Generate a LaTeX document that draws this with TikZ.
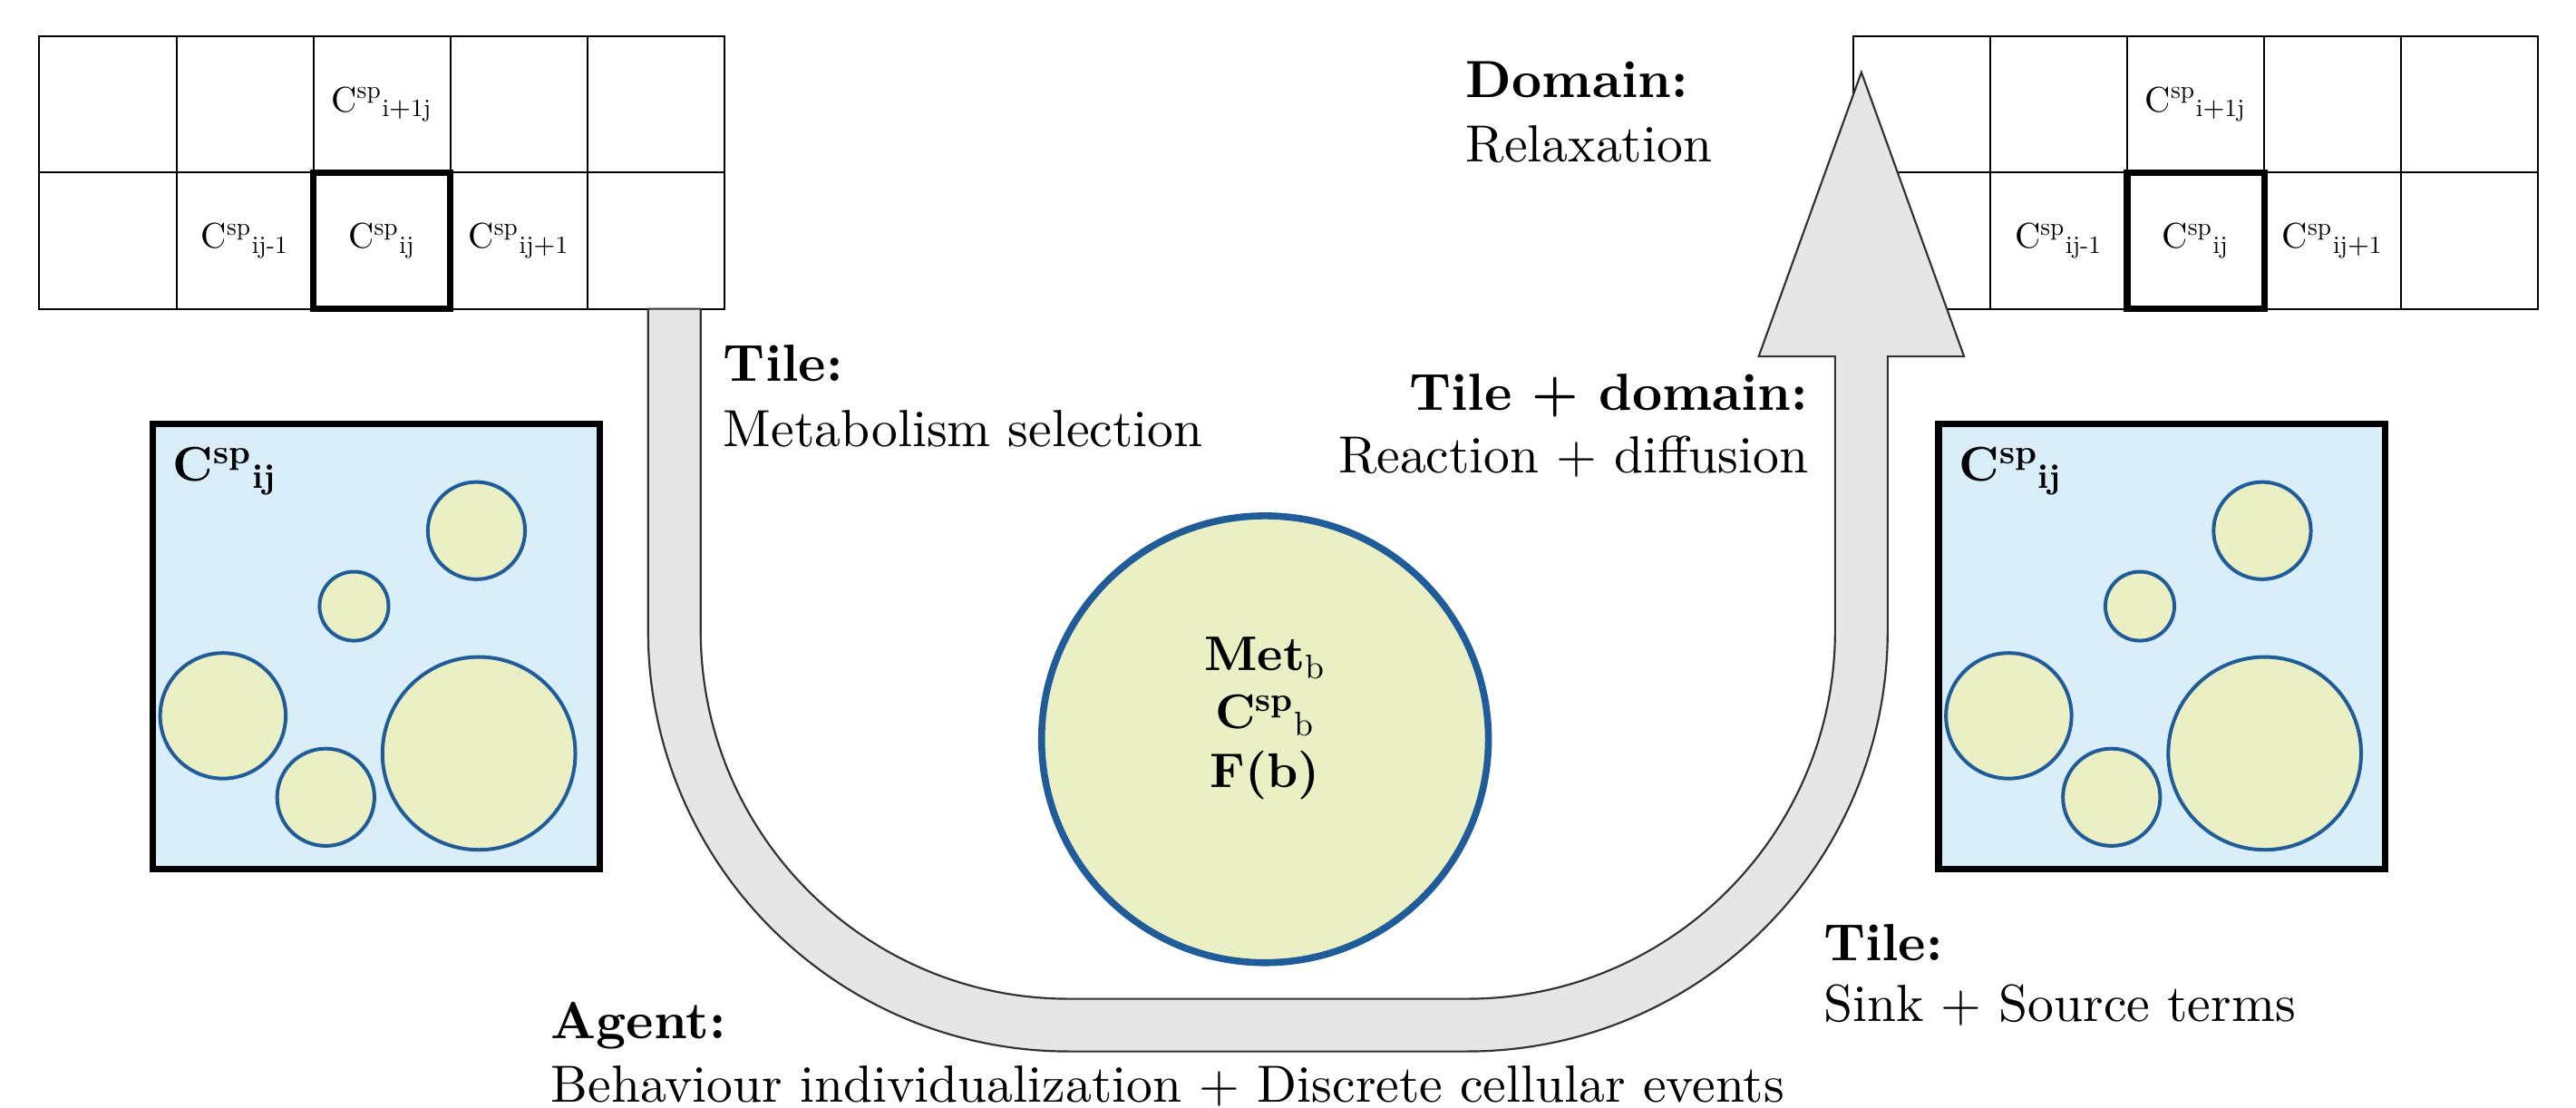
\documentclass[tikz,border=0pt]{standalone}
\usepackage{amsmath}
\usepackage{fontspec}
\setmainfont{lmroman10-regular.otf}[BoldFont=lmroman10-bold.otf]
\usetikzlibrary{calc}
\definecolor{boxblue}{HTML}{D9EEF9}
\definecolor{cellfill}{HTML}{EAF0C4}
\definecolor{celledge}{HTML}{1F5C99}
\definecolor{arrowfill}{HTML}{E6E6E6}
\definecolor{arrowedge}{HTML}{333333}
\tikzset{
  gridline/.style={line width=0.55pt, black},
  thickcell/.style={line width=2pt, black},
  tilebox/.style={fill=boxblue, draw=black, line width=2pt},
  smallcell/.style={fill=cellfill, draw=celledge, line width=1.1pt},
  bigcell/.style={fill=cellfill, draw=celledge, line width=2.1pt},
  uarrow/.style={fill=arrowfill, draw=arrowedge, line width=0.6pt, line join=miter},
  gridlabel/.style={inner sep=0pt, font=\fontsize{10.8}{13}\selectfont},
  boxlabel/.style={inner sep=0pt, anchor=base west, font=\fontsize{14.8}{18}\selectfont},
  celltext/.style={inner sep=0pt, anchor=base, font=\fontsize{14.8}{17.7}\selectfont\bfseries},
  body/.style={inner sep=0pt, font=\fontsize{15.9}{19}\selectfont},
}
\begin{document}
\begin{tikzpicture}[x=0.5pt,y=0.5pt]
\useasboundingbox (0,0) rectangle (1568,674);

% ---------- grids ----------
\foreach \gx/\gn in {24/L,1128/R}{
  \draw[gridline] (\gx,486) rectangle ++(417,166);
  \draw[gridline] (\gx,569) -- ++(417,0);
  \foreach \k in {1,...,4}{\draw[gridline] ({\gx+\k*83.4},486) -- ++(0,166);}
  \draw[thickcell] ({\gx+2*83.4},486) rectangle ++(83.4,83);
  \node[gridlabel] (\gn top) at ({\gx+2.5*83.4},610.5) {$\mathrm{C^{sp}{}_{i+1j}}$};
  \node[gridlabel] (\gn left) at ({\gx+1.5*83.4},527.5) {$\mathrm{C^{sp}{}_{ij\text{-}1}}$};
  \node[gridlabel] (\gn mid) at ({\gx+2.5*83.4},527.5) {$\mathrm{C^{sp}{}_{ij}}$};
  \node[gridlabel] (\gn right) at ({\gx+3.5*83.4},527.5) {$\mathrm{C^{sp}{}_{ij+1}}$};
}

% ---------- tile boxes ----------
\foreach \dx/\bn in {0/L,1087/R}{
  \draw[tilebox] ({93+\dx},145) rectangle ({365+\dx},416);
  \node[boxlabel] (\bn lab) at ({105+\dx},381) {$\mathbf{C^{sp}{}_{ij}}$};
  \draw[smallcell] ({290+\dx},351) circle (29.6);
  \draw[smallcell] ({215.5+\dx},305) circle (21);
  \draw[smallcell] ({135.7+\dx},238.3) circle (38.2);
  \draw[smallcell] ({198.3+\dx},188.7) circle (29.6);
  \draw[smallcell] ({291.5+\dx},215.4) circle (58.7);
}

% ---------- U arrow ----------
\draw[uarrow] (394.5,486) -- (394.5,290)
  arc[start angle=180, end angle=270, radius=256] -- (893,34)
  arc[start angle=270, end angle=360, radius=256] -- (1149,457)
  -- (1195.5,457) -- (1133,630) -- (1070.5,457) -- (1117,457) -- (1117,290)
  arc[start angle=0, end angle=-90, radius=224] -- (650.5,66)
  arc[start angle=270, end angle=180, radius=224] -- (426.5,486) -- cycle;

% ---------- agent ----------
\node[bigcell, circle, minimum size=136pt, inner sep=0pt] (agent) at (770,224) {};
\node[celltext] (met) at (770,265.6) {Met$_{\mathrm{b}}$};
\node[celltext] (csp) at (770,230.7) {$\mathbf{C^{sp}}{}_{\mathrm{b}}$};
\node[celltext] (fb) at (770,194.8) {F(b)};

% ---------- texts ----------
\node[body, anchor=base west] (t1a) at (440,442) {\textbf{Tile:}};
\node[body, anchor=base west] (t1b) at (440,402) {Metabolism selection};
\node[body, anchor=base west] (t2a) at (892,614.5) {\textbf{Domain:}};
\node[body, anchor=base west] (t2b) at (892,575.5) {Relaxation};
\node[body, anchor=base east] (t3a) at (1101,424.5) {\textbf{Tile + domain:}};
\node[body, anchor=base east] (t3b) at (1101,386) {Reaction + diffusion};
\node[body, anchor=base west] (t4a) at (1109.5,89) {\textbf{Tile:}};
\node[body, anchor=base west] (t4b) at (1109.5,52) {Sink + Source terms};
\node[body, anchor=base west] (t5a) at (335,41.5) {\textbf{Agent:}};
\node[body, anchor=base west] (t5b) at (335,3) {Behaviour individualization + Discrete cellular events};
\end{tikzpicture}
\end{document}
